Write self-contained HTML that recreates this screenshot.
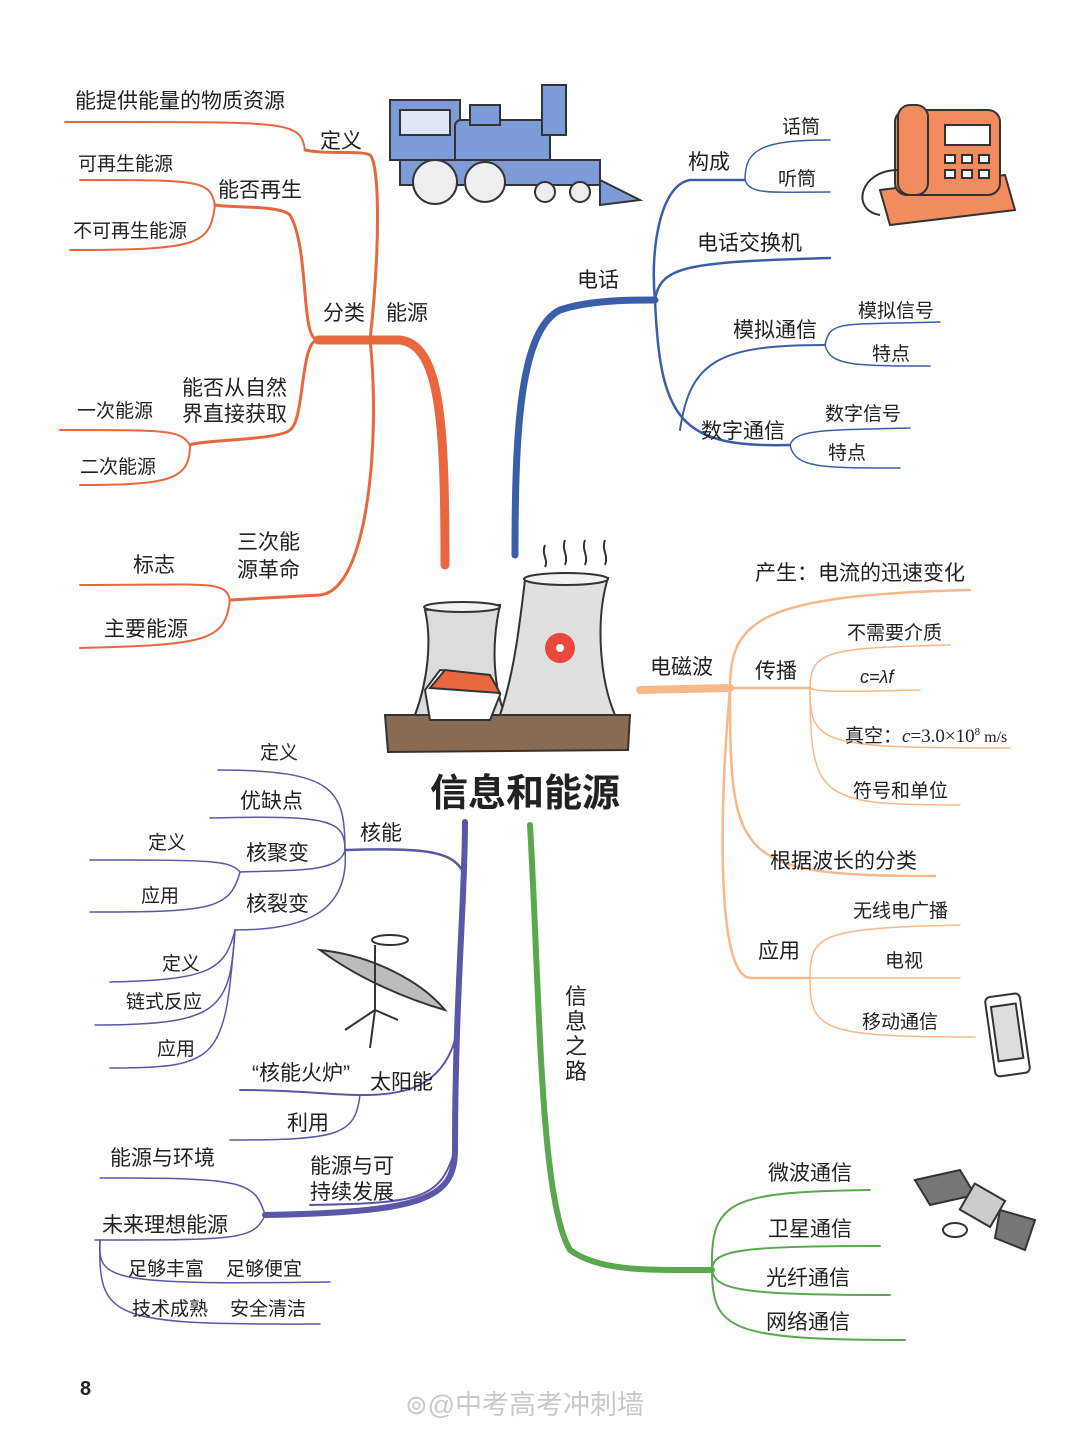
<!DOCTYPE html>
<html><head><meta charset="utf-8"><style>
html,body{margin:0;padding:0;background:#fff;}
svg{display:block;}
text{font-family:"Liberation Sans","Noto Sans CJK SC",sans-serif;fill:#222;}
</style></head><body>
<svg width="1080" height="1430" viewBox="0 0 1080 1430" xmlns="http://www.w3.org/2000/svg">
<rect width="1080" height="1430" fill="#fff"/>
<g fill="none" stroke-linecap="round">
<g stroke="#e8673f">
<path d="M445 565 C445 420 440 345 400 340 L318 340" stroke-width="9"/>
<path d="M318 340 C300 340 310 250 290 215 C280 205 230 208 215 205" stroke-width="3"/>
<path d="M215 205 C210 180 200 180 80 180" stroke-width="2"/>
<path d="M215 205 C210 245 200 250 70 250" stroke-width="2"/>
<path d="M318 340 C300 340 305 420 290 430 C280 440 200 440 190 445" stroke-width="3"/>
<path d="M190 445 C180 430 170 430 60 430" stroke-width="2"/>
<path d="M190 445 C190 480 170 485 80 485" stroke-width="2"/>
<path d="M370 340 C380 250 380 165 370 155 C360 150 330 155 305 150" stroke-width="3"/>
<path d="M305 150 C300 120 290 122 65 122" stroke-width="2"/>
<path d="M370 340 C380 430 370 590 320 595 L230 600" stroke-width="3"/>
<path d="M230 600 C225 580 210 585 80 585" stroke-width="2"/>
<path d="M230 600 C225 640 210 645 80 648" stroke-width="2"/>
</g>
<g stroke="#3a5fa8">
<path d="M515 555 C515 430 520 330 560 310 C590 300 630 300 655 300" stroke-width="7"/>
<path d="M655 300 C650 250 660 185 690 180 L745 180" stroke-width="2.5"/>
<path d="M745 180 C745 150 760 140 830 140" stroke-width="1.5"/>
<path d="M745 180 C750 195 770 192 830 192" stroke-width="1.5"/>
<path d="M655 300 C660 265 690 262 830 258" stroke-width="2.5"/>
<path d="M655 300 C660 420 680 448 790 445" stroke-width="2.5"/>
<path d="M680 430 C690 360 720 345 825 345" stroke-width="2"/>
<path d="M825 345 C830 320 840 325 940 322" stroke-width="1.5"/>
<path d="M825 345 C830 365 850 366 930 366" stroke-width="1.5"/>
<path d="M790 445 C795 430 820 430 910 428" stroke-width="1.5"/>
<path d="M790 445 C795 468 820 468 900 468" stroke-width="1.5"/>
</g>
<g stroke="#f7b98a">
<path d="M640 690 L730 688" stroke-width="8"/>
<path d="M730 688 C730 620 760 595 970 590" stroke-width="2.5"/>
<path d="M730 688 L810 688" stroke-width="2.5"/>
<path d="M810 688 C810 650 830 648 950 645" stroke-width="1.5"/>
<path d="M810 688 C815 692 840 692 920 690" stroke-width="1.5"/>
<path d="M810 688 C810 745 820 748 1010 748" stroke-width="1.5"/>
<path d="M810 688 C810 800 820 805 960 805" stroke-width="1.5"/>
<path d="M730 688 C730 860 735 876 935 876" stroke-width="2.5"/>
<path d="M730 688 C720 800 715 975 750 978 L810 978" stroke-width="2.5"/>
<path d="M810 978 C810 935 820 928 960 925" stroke-width="1.5"/>
<path d="M810 978 L960 978" stroke-width="1.5"/>
<path d="M810 978 C810 1030 820 1037 975 1037" stroke-width="1.5"/>
</g>
<g stroke="#5a56a8">
<path d="M465 822 C465 900 455 1000 455 1150 C455 1200 420 1212 265 1215" stroke-width="6"/>
<path d="M462 870 C450 850 420 848 345 850" stroke-width="2.5"/>
<path d="M345 850 C345 790 335 770 218 770" stroke-width="1.5"/>
<path d="M345 850 C345 820 330 815 210 818" stroke-width="1.5"/>
<path d="M345 850 C340 872 300 870 240 872" stroke-width="1.5"/>
<path d="M345 850 C350 915 300 930 235 930" stroke-width="1.5"/>
<path d="M240 872 C230 860 210 860 90 860" stroke-width="1.5"/>
<path d="M240 872 C230 910 210 912 90 912" stroke-width="1.5"/>
<path d="M235 930 C225 970 210 980 110 982" stroke-width="1.5"/>
<path d="M235 930 C230 1010 220 1025 95 1025" stroke-width="1.5"/>
<path d="M235 930 C225 1060 220 1068 110 1068" stroke-width="1.5"/>
<path d="M455 1040 C440 1090 400 1095 360 1095 C330 1095 300 1090 240 1090" stroke-width="2"/>
<path d="M360 1095 C355 1135 340 1140 230 1140" stroke-width="1.5"/>
<path d="M455 1150 C440 1200 420 1203 310 1205" stroke-width="2"/>
<path d="M265 1215 C255 1180 240 1178 100 1178" stroke-width="1.5"/>
<path d="M265 1215 C255 1240 235 1240 95 1240" stroke-width="1.5"/>
<path d="M100 1240 C98 1280 105 1285 330 1282" stroke-width="1.5"/>
<path d="M100 1240 C98 1320 110 1325 320 1324" stroke-width="1.5"/>
</g>
<g stroke="#5aa84e">
<path d="M530 825 C540 1000 540 1200 570 1250 C600 1272 650 1270 712 1270" stroke-width="6"/>
<path d="M712 1270 C710 1200 730 1192 870 1190" stroke-width="2"/>
<path d="M712 1270 C712 1250 740 1246 880 1246" stroke-width="2"/>
<path d="M712 1270 C715 1290 740 1295 890 1295" stroke-width="2"/>
<path d="M712 1270 C712 1330 730 1340 905 1340" stroke-width="2"/>
</g>
</g>

<g font-size="21">
<text x="75" y="108">能提供能量的物质资源</text>
<text x="320" y="148">定义</text>
<text x="78" y="170" font-size="19">可再生能源</text>
<text x="218" y="197">能否再生</text>
<text x="73" y="237" font-size="19">不可再生能源</text>
<text x="323" y="320" font-size="21">分类</text>
<text x="386" y="320" font-size="21">能源</text>
<text x="182" y="395">能否从自然</text>
<text x="182" y="421">界直接获取</text>
<text x="77" y="417" font-size="19">一次能源</text>
<text x="80" y="473" font-size="19">二次能源</text>
<text x="237" y="549">三次能</text>
<text x="237" y="577">源革命</text>
<text x="133" y="572">标志</text>
<text x="104" y="636">主要能源</text>

<text x="688" y="169">构成</text>
<text x="782" y="133" font-size="19">话筒</text>
<text x="778" y="185" font-size="19">听筒</text>
<text x="697" y="250">电话交换机</text>
<text x="577" y="287">电话</text>
<text x="733" y="337">模拟通信</text>
<text x="858" y="317" font-size="19">模拟信号</text>
<text x="872" y="360" font-size="19">特点</text>
<text x="701" y="438">数字通信</text>
<text x="825" y="420" font-size="19">数字信号</text>
<text x="828" y="459" font-size="19">特点</text>

<text x="755" y="580">产生：电流的迅速变化</text>
<text x="650" y="674">电磁波</text>
<text x="755" y="678">传播</text>
<text x="847" y="639" font-size="19">不需要介质</text>
<text x="860" y="683" font-size="18" font-family="Liberation Serif" font-style="italic">c=λf</text>
<text x="845" y="742" font-size="19">真空：<tspan font-family="Liberation Serif" font-style="italic">c</tspan><tspan font-family="Liberation Serif">=3.0×10</tspan><tspan font-family="Liberation Serif" font-size="11" dy="-7">8</tspan><tspan font-family="Liberation Serif" font-size="16" dy="7"> m/s</tspan></text>
<text x="853" y="797" font-size="19">符号和单位</text>
<text x="770" y="868">根据波长的分类</text>
<text x="853" y="917" font-size="19">无线电广播</text>
<text x="758" y="958">应用</text>
<text x="885" y="967" font-size="19">电视</text>
<text x="862" y="1028" font-size="19">移动通信</text>

<text x="430" y="806" font-size="38" font-weight="bold">信息和能源</text>

<text x="260" y="759" font-size="19">定义</text>
<text x="240" y="808">优缺点</text>
<text x="360" y="840">核能</text>
<text x="148" y="849" font-size="19">定义</text>
<text x="246" y="860">核聚变</text>
<text x="141" y="902" font-size="19">应用</text>
<text x="246" y="911">核裂变</text>
<text x="162" y="970" font-size="19">定义</text>
<text x="126" y="1008" font-size="19">链式反应</text>
<text x="157" y="1055" font-size="19">应用</text>
<text x="252" y="1080">“核能火炉”</text>
<text x="370" y="1089">太阳能</text>
<text x="287" y="1130">利用</text>
<text x="110" y="1165">能源与环境</text>
<text x="310" y="1173">能源与可</text>
<text x="310" y="1199">持续发展</text>
<text x="102" y="1232">未来理想能源</text>
<text x="128" y="1275" font-size="19">足够丰富</text>
<text x="226" y="1275" font-size="19">足够便宜</text>
<text x="132" y="1315" font-size="19">技术成熟</text>
<text x="230" y="1315" font-size="19">安全清洁</text>

<text x="565" y="1004" font-size="22">信</text>
<text x="565" y="1029" font-size="22">息</text>
<text x="565" y="1054" font-size="22">之</text>
<text x="565" y="1079" font-size="22">路</text>

<text x="768" y="1180">微波通信</text>
<text x="768" y="1236">卫星通信</text>
<text x="766" y="1285">光纤通信</text>
<text x="766" y="1329">网络通信</text>
</g>
<text x="80" y="1395" font-size="20" font-weight="bold">8</text>
<text x="405" y="1414" font-size="27" style="fill:#c8c8c8">⊚@中考高考冲刺墙</text>

<g stroke="#333" stroke-width="2">
<rect x="390" y="100" width="70" height="60" fill="#7d9bd8"/>
<rect x="400" y="110" width="50" height="25" fill="#dfe6f5"/>
<rect x="455" y="120" width="95" height="45" rx="6" fill="#7d9bd8"/>
<rect x="542" y="85" width="24" height="50" fill="#7d9bd8"/>
<rect x="470" y="105" width="30" height="20" fill="#7d9bd8"/>
<polygon points="600,180 640,200 600,205" fill="#7d9bd8"/>
<rect x="400" y="160" width="200" height="25" fill="#7d9bd8"/>
<circle cx="435" cy="182" r="22" fill="#eee"/>
<circle cx="485" cy="182" r="20" fill="#eee"/>
<circle cx="545" cy="192" r="10" fill="#eee"/>
<circle cx="580" cy="192" r="10" fill="#eee"/>
</g>
<g stroke="#333" stroke-width="2">
<path d="M880 190 L1005 175 L1015 210 L890 225 Z" fill="#f28b5e"/>
<rect x="895" y="110" width="105" height="85" rx="12" fill="#f28b5e"/>
<rect x="945" y="125" width="45" height="20" fill="#fff"/>
<rect x="898" y="105" width="30" height="90" rx="12" fill="#f28b5e"/>
<g fill="#fff"><rect x="945" y="155" width="10" height="8"/><rect x="962" y="155" width="10" height="8"/><rect x="979" y="155" width="10" height="8"/><rect x="945" y="170" width="10" height="8"/><rect x="962" y="170" width="10" height="8"/><rect x="979" y="170" width="10" height="8"/></g>
<path d="M898 170 C860 170 850 210 880 215" fill="none"/>
</g>
<g stroke="#333" stroke-width="2">
<path d="M385 715 L630 715 L628 750 L388 752 Z" fill="#8a6a50"/>
<path d="M425 610 L500 605 C490 650 495 690 505 715 L415 715 C428 680 432 640 425 610 Z" fill="#dcdcdc"/>
<path d="M525 580 L608 578 C595 620 600 680 615 715 L500 715 C515 670 520 620 525 580 Z" fill="#e0e0e0"/>
<ellipse cx="566" cy="579" rx="42" ry="6" fill="#f2f2f2"/>
<ellipse cx="462" cy="607" rx="38" ry="5" fill="#f2f2f2"/>
<circle cx="560" cy="648" r="15" fill="#e8493a" stroke="none"/>
<circle cx="560" cy="648" r="4" fill="#fff" stroke="none"/>
<path d="M425 690 L440 670 L490 675 L500 695 L490 720 L430 720 Z" fill="#fff"/>
<path d="M430 688 L445 670 L490 675 L500 693 Z" fill="#e8673f"/>
<path d="M545 545 c-4 10 4 15 0 22 M565 540 c-4 10 4 15 0 25 M585 540 c-4 10 4 15 0 25 M605 540 c-4 10 4 15 0 25" fill="none"/>
</g>
<g stroke="#333" stroke-width="2" fill="none">
<path d="M320 950 C360 980 410 1000 445 1010 C420 980 370 955 320 950 Z" fill="#bbb"/>
<line x1="375" y1="945" x2="375" y2="1010"/>
<line x1="375" y1="1010" x2="345" y2="1030"/><line x1="375" y1="1010" x2="398" y2="1020"/><line x1="375" y1="1010" x2="370" y2="1048"/>
<ellipse cx="390" cy="940" rx="18" ry="5"/>
</g>
<g stroke="#333" stroke-width="2">
<rect x="990" y="995" width="35" height="80" rx="5" fill="#fff" transform="rotate(-8 1007 1035)"/>
<rect x="995" y="1005" width="25" height="55" fill="#ddd" transform="rotate(-8 1007 1035)"/>
</g>
<g stroke="#333" stroke-width="2">
<polygon points="915,1180 960,1170 975,1195 930,1205" fill="#777"/>
<polygon points="1000,1210 1035,1220 1025,1250 995,1238" fill="#777"/>
<rect x="965" y="1190" width="35" height="30" fill="#ccc" transform="rotate(30 982 1205)"/>
<ellipse cx="955" cy="1230" rx="12" ry="7" fill="#fff"/>
</g>
</svg>
</body></html>
